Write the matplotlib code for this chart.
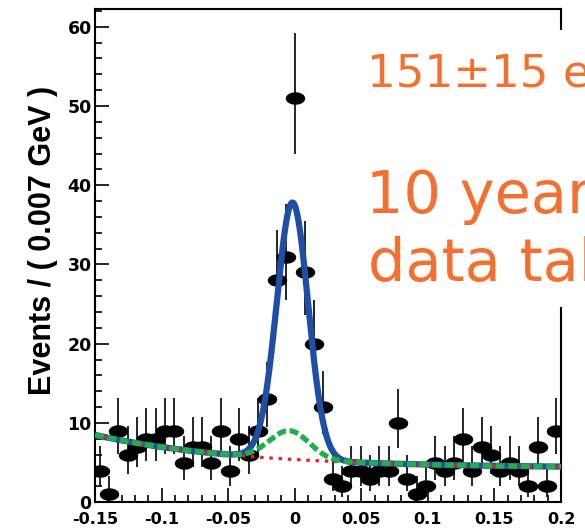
import numpy as np
import matplotlib
matplotlib.use("Agg")
import matplotlib.pyplot as plt
from matplotlib.path import Path
from matplotlib.patches import Rectangle
from matplotlib.ticker import MultipleLocator, FixedLocator

# ---------------- data ----------------
bin_width = 0.007
x_low = -0.15
counts = [4, 1, 9, 6, 7, 8, 8, 9, 9, 5,
          7, 7, 5, 9, 4, 8, 6, 9, 13, 28,
          31, 51, 29, 20, 12, 3, 2, 4, 4, 3,
          4, 4, 10, 3, 1, 2, 5, 4, 5, 8,
          4, 7, 6, 4, 5, 4, 2, 7, 2, 9]

# fit model parameters
bkg_c0, bkg_c1, bkg_tau = 4.33, 4.17, 0.11
pk_amp, pk_mu, pk_sigma = 3.6, -0.004, 0.015        # peaking background
sig_amp, sig_mu, sig_sigma = 28.85, -0.0015, 0.0115  # signal

xticks = [-0.15, -0.1, -0.05, 0, 0.05, 0.1, 0.15, 0.2]
xtick_labels = ["-0.15", "-0.1", "-0.05", "0", "0.05", "0.1", "0.15", "0.2"]
yticks = [0, 10, 20, 30, 40, 50, 60]
ylabel = "Events / ( 0.007 GeV )"
text1 = "151±15 events"
text2 = "10 years of"
text3 = "data taking"

orange = "#f47030"
blue = "#1f4ea6"
green = "#1fb04c"
red = "#e8202e"

# ---------------- derived ----------------
n = np.array(counts, dtype=float)
centers = x_low + bin_width * (np.arange(len(n)) + 0.5)


def chi2_ppf(z, k):
    return k * (1 - 2.0 / (9 * k) + z * np.sqrt(2.0 / (9 * k))) ** 3


lo = np.where(n > 0, n - 0.5 * chi2_ppf(-1.0, np.maximum(2 * n, 1)), 0)
hi = 0.5 * chi2_ppf(1.0, 2 * n + 2) - n

xs = np.linspace(-0.15, 0.2, 1200)
bkg = bkg_c0 + bkg_c1 * np.exp(-(xs + 0.15) / bkg_tau)
pk = pk_amp * np.exp(-0.5 * ((xs - pk_mu) / pk_sigma) ** 2)
sig = sig_amp * np.exp(-0.5 * ((xs - sig_mu) / sig_sigma) ** 2)

# ---------------- figure ----------------
fig = plt.figure(figsize=(5.85, 5.28), dpi=100)
W, H = 585, 528
ax = fig.add_axes([95 / W, 1 - 502.3 / H, (561 - 95) / W, (502.3 - 9) / H])
ax.set_xlim(-0.15, 0.2)
ax.set_ylim(0, 62.23)

# ellipse marker
t = np.linspace(0, 2 * np.pi, 60)
ell = Path(np.column_stack([np.cos(t), 0.64 * np.sin(t)]), closed=True)

ax.errorbar(centers, n, yerr=[lo, hi], fmt="none", ecolor="black",
            elinewidth=1.2, capsize=0, zorder=2)
ax.plot(centers, n, linestyle="none", marker=ell, markersize=14,
        color="black", markeredgewidth=0, zorder=2.5)

ax.plot(xs, bkg + pk + sig, color=blue, lw=4.5, zorder=3, solid_capstyle="butt")
ax.plot(xs, bkg, color=red, lw=2.3, linestyle=(0, (1.1, 1.8)), zorder=4)
ax.plot(xs, bkg + pk, color=green, lw=3.8, linestyle=(0, (1.7, 0.7)), zorder=5)

for s in ax.spines.values():
    s.set_linewidth(1.5)

ax.xaxis.set_major_locator(FixedLocator(xticks))
ax.set_xticklabels(xtick_labels)
ax.xaxis.set_minor_locator(MultipleLocator(0.01))
ax.yaxis.set_major_locator(FixedLocator(yticks))
ax.yaxis.set_minor_locator(MultipleLocator(2))
ax.tick_params(which="both", direction="in", top=False, right=False, width=1.2)
ax.tick_params(which="major", length=10)
ax.tick_params(which="minor", length=5)
ax.tick_params(axis="x", which="major", pad=7)
ax.tick_params(axis="y", which="major", pad=2.4)
for lab in ax.get_xticklabels():
    lab.set_fontfamily("DejaVu Sans")
    lab.set_fontweight("bold")
    lab.set_fontsize(11.5)
for lab in ax.get_yticklabels():
    lab.set_fontfamily("DejaVu Sans")
    lab.set_fontweight("bold")
    lab.set_fontsize(12.5)

ax.set_ylabel(ylabel, fontfamily="Liberation Sans", fontweight="bold", fontsize=22)
ax.yaxis.label.set_va("center")
ax.yaxis.label.set_rotation_mode("default")
ax.yaxis.set_label_coords((43 - 95) / 466, (528 - 240 - 25.7) / 493.3)

# white box hiding right part of frame, with overlay text (cut at the right edge as in the source)
fig.patches.append(Rectangle((362 / W, 1 - 307 / H), 1 - 362 / W, (307 - 30) / H,
                             transform=fig.transFigure, facecolor="white",
                             edgecolor="none", zorder=10))
fig.text(367 / W, 1 - 86.7 / H, text1, color=orange, fontsize=32.5,
         fontfamily="DejaVu Sans", ha="left", va="baseline", zorder=11)
fig.text(366 / W, 1 - 213.3 / H, text2, color=orange, fontsize=42.5,
         fontfamily="DejaVu Sans", ha="left", va="baseline", zorder=11)
fig.text(368 / W, 1 - 281 / H, text3, color=orange, fontsize=42.5,
         fontfamily="DejaVu Sans", ha="left", va="baseline", zorder=11)

fig.savefig("out.png", dpi=100)
